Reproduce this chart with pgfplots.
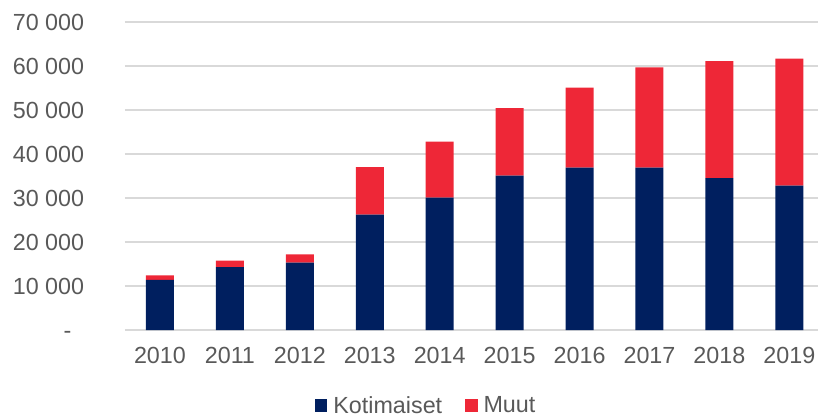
\documentclass[border=0pt]{standalone}
\usepackage{pgfplots}
\pgfplotsset{compat=1.18}
\usepackage{fontspec}
\setmainfont{Liberation Sans}
\definecolor{navy}{HTML}{001F5F}
\definecolor{redm}{HTML}{EE2737}
\definecolor{txt}{HTML}{595959}
\definecolor{grd}{HTML}{D9D9D9}
\begin{document}
\begin{tikzpicture}
\begin{axis}[
  scale only axis,
  width=693bp, height=308bp,
  ybar stacked, bar width=28bp,
  xmin=-0.5, xmax=9.41,
  ymin=0, ymax=70000,
  scaled y ticks=false,
  xtick={0,...,9},
  xticklabels={2010,2011,2012,2013,2014,2015,2016,2017,2018,2019},
  ytick={0,10000,20000,30000,40000,50000,60000,70000},
  yticklabels={{\vphantom{0}-\hspace*{12.6bp}},10 000,20 000,30 000,40 000,50 000,60 000,70 000},
  font=\fontsize{23.4pt}{28pt}\selectfont,
  tick label style={text=txt, inner sep=0pt},
  yticklabel style={anchor=east, xshift=-40.7bp},
  xticklabel style={anchor=north, yshift=-17bp},
  major tick length=0pt,
  axis line style={draw=none},
  ymajorgrids, grid style={grd, line width=1.5bp},
  legend columns=2,
  legend style={draw=none, fill=none, at={(0.4329,-0.2448)}, anchor=center,
    inner sep=0pt, nodes={inner sep=0pt, text=txt, font=\fontsize{23.4pt}{28pt}\selectfont},
    /tikz/every odd column/.append style={column sep=6bp},
    /tikz/every even column/.append style={column sep=22.6bp}},
  legend image code/.code={\fill[#1] (0bp,-6.3bp) rectangle (12.7bp,6.4bp);},
]
\addplot[fill=navy, draw=none] coordinates {(0,11400) (1,14300) (2,15300) (3,26200) (4,30100) (5,35100) (6,36900) (7,36900) (8,34500) (9,32800)};
\addplot[fill=redm, draw=none] coordinates {(0,1000) (1,1450) (2,1900) (3,10800) (4,12700) (5,15300) (6,18200) (7,22800) (8,26600) (9,28900)};
\legend{Kotimaiset,Muut}
\end{axis}
\pgfresetboundingbox
\path[use as bounding box] (-125bp,-88bp) rectangle (693bp,330bp);
\end{tikzpicture}
\end{document}
